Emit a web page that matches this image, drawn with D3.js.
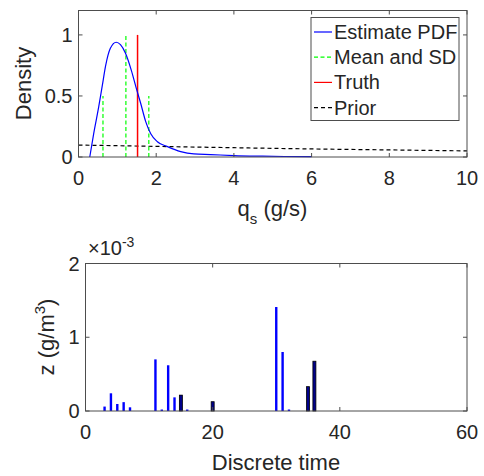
<!DOCTYPE html>
<html>
<head>
<meta charset="utf-8">
<script src="https://cdn.jsdelivr.net/npm/d3@7"></script>
<style>
  body { margin: 0; background: #fff; }
  svg text { font-family: "Liberation Sans", Arial, Helvetica, sans-serif; fill: #262626; }
</style>
</head>
<body>
<div id="chart"></div>
<script>
/* DATA */
// top panel: estimated pdf of q_s
const pdfQ = [0.29, 0.39, 0.52, 0.61, 0.70, 0.82, 0.97, 1.08, 1.21, 1.36, 1.49, 1.60, 1.73, 1.86, 2.03, 2.29, 2.63, 2.97, 3.4, 4.0, 4.7, 5.3, 6.0];
const pdfDensity = [0, 0.19, 0.41, 0.58, 0.75, 0.89, 0.94, 0.92, 0.85, 0.71, 0.56, 0.44, 0.29, 0.19, 0.125, 0.085, 0.044, 0.025, 0.02, 0.012, 0.007, 0.004, 0.003];
const priorQ = [0, 2, 4, 6, 8, 10];
const priorDensity = [0.098, 0.087, 0.076, 0.066, 0.058, 0.05];
const meanQ = 1.22, sdQ = 0.59, truthQ = 1.52;
const legendLabels = ["Estimate PDF", "Mean and SD", "Truth", "Prior"];
const topXTicks = [0, 2, 4, 6, 8, 10];
const topYTicks = [0, 0.5, 1];

// bottom panel: z per discrete time (units 1e-3 g/m^3)
const estTimes = [3, 4, 5, 6, 7, 11, 12, 13, 14, 15, 16, 30, 31, 32];
const estValues = [0.06, 0.24, 0.095, 0.12, 0.05, 0.70, 0.02, 0.62, 0.185, 0.215, 0.02, 1.41, 0.80, 0.02];
const truthTimes = [15, 20, 35, 36];
const truthValues = [0.215, 0.126, 0.33, 0.675];
const botXTicks = [0, 20, 40, 60];
const botYTicks = [0, 1, 2];

const width = 484, height = 476;
const axisColor = "#4d4d4d";

const svg = d3.select("#chart").append("svg")
  .attr("width", width)
  .attr("height", height);

function boxAxes(x, y, xTicks, yTicks, yFmt) {
  const [x0, x1] = x.range();
  const [y0, y1] = y.range();
  const g = svg.append("g");
  g.append("rect")
    .attr("x", x0).attr("y", y1)
    .attr("width", x1 - x0).attr("height", y0 - y1)
    .attr("fill", "none").attr("stroke", axisColor).attr("stroke-width", 1);
  const tl = 4;
  xTicks.forEach(t => {
    const px = x(t);
    g.append("line").attr("x1", px).attr("x2", px).attr("y1", y0).attr("y2", y0 - tl).attr("stroke", axisColor);
    g.append("line").attr("x1", px).attr("x2", px).attr("y1", y1).attr("y2", y1 + tl).attr("stroke", axisColor);
    g.append("text").attr("x", px).attr("y", y0 + 28)
      .attr("text-anchor", "middle").attr("font-size", 20).text(t);
  });
  yTicks.forEach(t => {
    const py = y(t);
    g.append("line").attr("x1", x0).attr("x2", x0 + tl).attr("y1", py).attr("y2", py).attr("stroke", axisColor);
    g.append("line").attr("x1", x1).attr("x2", x1 - tl).attr("y1", py).attr("y2", py).attr("stroke", axisColor);
    g.append("text").attr("x", x0 - 6).attr("y", py + 7)
      .attr("text-anchor", "end").attr("font-size", 20).text(yFmt(t));
  });
  return g;
}

/* TOP PANEL */
const xTop = d3.scaleLinear().domain([0, 10]).range([78.5, 467]);
const yTop = d3.scaleLinear().domain([0, 1.2]).range([157, 10.5]);

const topG = svg.append("g");
// prior
topG.append("path")
  .datum(priorQ.map((q, i) => [q, priorDensity[i]]))
  .attr("d", d3.line().x(d => xTop(d[0])).y(d => yTop(d[1])).curve(d3.curveMonotoneX))
  .attr("fill", "none").attr("stroke", "#000").attr("stroke-width", 1.2)
  .attr("stroke-dasharray", "4,3");
// mean and sd
[[meanQ, 1], [meanQ - sdQ, 0.5], [meanQ + sdQ, 0.5]].forEach(([q, h]) => {
  topG.append("line")
    .attr("x1", xTop(q)).attr("x2", xTop(q))
    .attr("y1", yTop(0)).attr("y2", yTop(h))
    .attr("stroke", "#00ff00").attr("stroke-width", 1.2)
    .attr("stroke-dasharray", "4,2.5");
});
// truth
topG.append("line")
  .attr("x1", xTop(truthQ)).attr("x2", xTop(truthQ))
  .attr("y1", yTop(0)).attr("y2", yTop(1.0))
  .attr("stroke", "#ff0000").attr("stroke-width", 1.5);
// pdf
topG.append("path")
  .datum(pdfQ.map((q, i) => [q, pdfDensity[i]]))
  .attr("d", d3.line().x(d => xTop(d[0])).y(d => yTop(d[1])).curve(d3.curveMonotoneX))
  .attr("fill", "none").attr("stroke", "#0000ff").attr("stroke-width", 1.2);

boxAxes(xTop, yTop, topXTicks, topYTicks, d => d === 0.5 ? "0.5" : d);

// legend
const leg = svg.append("g");
leg.append("rect").attr("x", 311).attr("y", 17.5).attr("width", 148).attr("height", 103)
  .attr("fill", "#fff").attr("stroke", axisColor);
const legStyles = [
  { stroke: "#0000ff", dash: null },
  { stroke: "#00ff00", dash: "4,2.5" },
  { stroke: "#ff0000", dash: null },
  { stroke: "#000", dash: "4,3" }
];
legendLabels.forEach((lab, i) => {
  const ly = 32 + i * 25.2;
  leg.append("line").attr("x1", 314).attr("x2", 332).attr("y1", ly).attr("y2", ly)
    .attr("stroke", legStyles[i].stroke).attr("stroke-width", 1.2)
    .attr("stroke-dasharray", legStyles[i].dash);
  leg.append("text").attr("x", 334).attr("y", ly + 7).attr("font-size", 20).attr("fill", "#000").text(lab);
});

// labels
svg.append("text").attr("transform", "translate(31,83.5) rotate(-90)")
  .attr("text-anchor", "middle").attr("font-size", 22).text("Density");
const xl = svg.append("text").attr("x", 272.5).attr("y", 216)
  .attr("text-anchor", "middle").attr("font-size", 22);
xl.append("tspan").text("q");
xl.append("tspan").attr("font-size", 15).attr("dy", 8).text("s");
xl.append("tspan").attr("dy", -8).text(" (g/s)");

/* BOTTOM PANEL */
const xBot = d3.scaleLinear().domain([0, 60]).range([85.5, 467]);
const yBot = d3.scaleLinear().domain([0, 2]).range([411, 263.5]);

const botG = svg.append("g");
botG.selectAll("rect.est")
  .data(estTimes.map((t, i) => ({ t, v: estValues[i] })))
  .join("rect")
  .attr("class", "est")
  .attr("x", d => xBot(d.t) - 1.2)
  .attr("width", 2.4)
  .attr("y", d => yBot(d.v))
  .attr("height", d => yBot(0) - yBot(d.v))
  .attr("fill", "#0000ff");
botG.selectAll("rect.truth")
  .data(truthTimes.map((t, i) => ({ t, v: truthValues[i] })))
  .join("rect")
  .attr("class", "truth")
  .attr("x", d => xBot(d.t) - 1.5)
  .attr("width", 3)
  .attr("y", d => yBot(d.v))
  .attr("height", d => yBot(0) - yBot(d.v))
  .attr("fill", "#00008b").attr("stroke", "#000").attr("stroke-width", 0.8);

boxAxes(xBot, yBot, botXTicks, botYTicks, d => d);

// exponent
const ex = svg.append("text").attr("x", 88).attr("y", 255).attr("font-size", 20);
ex.append("tspan").text("\u00d710");
ex.append("tspan").attr("font-size", 14).attr("dy", -8).text("-3");

svg.append("text").attr("transform", "translate(53.5,337) rotate(-90)")
  .attr("text-anchor", "middle").attr("font-size", 22)
  .call(t => {
    t.append("tspan").text("z (g/m");
    t.append("tspan").attr("font-size", 15).attr("dy", -9).text("3");
    t.append("tspan").attr("dy", 9).text(")");
  });
svg.append("text").attr("x", 276).attr("y", 470)
  .attr("text-anchor", "middle").attr("font-size", 22).text("Discrete time");
</script>
</body>
</html>
